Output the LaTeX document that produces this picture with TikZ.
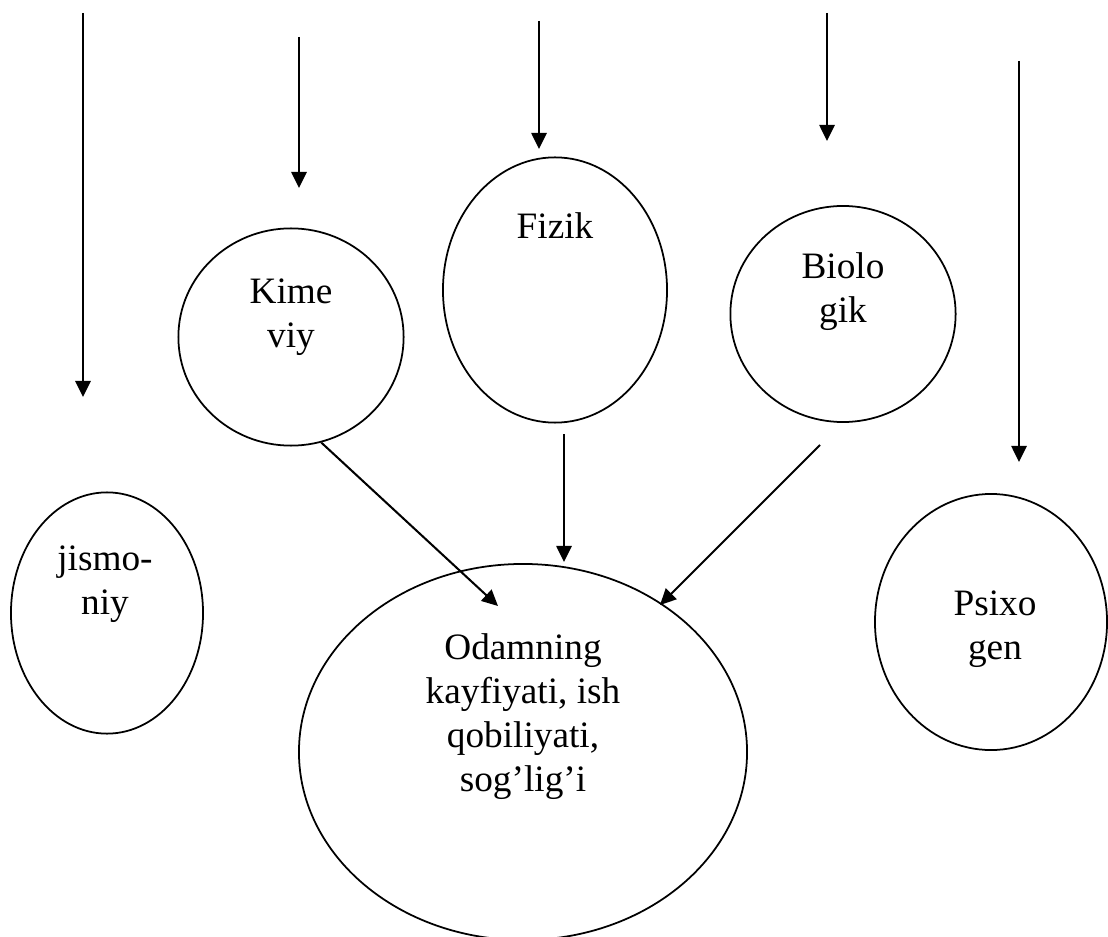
\documentclass[tikz,border=0pt]{standalone}
\usepackage{fontspec}
\setmainfont{Liberation Serif}
\usetikzlibrary{arrows.meta, shapes.geometric}
\tikzset{
  every picture/.style={line width=1.3pt},
  bubble/.style={draw, ellipse, inner sep=0pt, line width=1.25pt},
  lbl/.style={align=center, inner sep=0pt, font=\fontsize{26.5pt}{31.3pt}\selectfont},
  arr/.style={-{Triangle[length=0.4cm, width=0.38cm]}, line width=1.45pt},
}

\begin{document}
\begin{tikzpicture}[x=0.025cm, y=-0.025cm]
  \useasboundingbox (0,0) rectangle (1108,937);
  % the ellipses
  \node[bubble, minimum width=4.8cm, minimum height=6.03cm] (jis) at (107,613) {};
  \node[bubble, minimum width=5.63cm, minimum height=5.43cm] (kim) at (291,337) {};
  \node[bubble, minimum width=5.6cm, minimum height=6.63cm] (fiz) at (555,290) {};
  \node[bubble, minimum width=5.63cm, minimum height=5.4cm] (bio) at (843,314) {};
  \node[bubble, minimum width=5.8cm, minimum height=6.4cm] (psi) at (991,622) {};
  \node[bubble, minimum width=11.2cm, minimum height=9.4cm] (odm) at (523,752) {};
  % their texts
  \node[lbl] (jisT) at (105,584) {jismo-\\niy};
  \node[lbl] (kimT) at (291,317) {Kime\\viy};
  \node[lbl] (fizT) at (555,226) {Fizik};
  \node[lbl] (bioT) at (843,292) {Biolo\\gik};
  \node[lbl] (psiT) at (995,629) {Psixo\\gen};
  \node[lbl] (odmT) at (523,717) {Odamning\\kayfiyati, ish\\qobiliyati,\\sog’lig’i};
  % arrows from the top
  \coordinate (jisA) at (83,13);   \coordinate (jisB) at (83,397);
  \coordinate (kimA) at (299,37);  \coordinate (kimB) at (299,188);
  \coordinate (fizA) at (539,21);  \coordinate (fizB) at (539,149);
  \coordinate (bioA) at (827,13);  \coordinate (bioB) at (827,141);
  \coordinate (psiA) at (1019,61); \coordinate (psiB) at (1019,462);
  \draw[arr] (jisA) -- (jisB);
  \draw[arr] (kimA) -- (kimB);
  \draw[arr] (fizA) -- (fizB);
  \draw[arr] (bioA) -- (bioB);
  \draw[arr] (psiA) -- (psiB);
  % arrows into the middle
  \coordinate (fizOut) at (564,434);
  \coordinate (bioOut) at (820,445);
  \coordinate (odmK) at (498,606);
  \coordinate (odmF) at (564,562);
  \coordinate (odmB) at (660,605);
  \draw[arr] (kim.-74) -- (odmK);
  \draw[arr] (fizOut) -- (odmF);
  \draw[arr] (bioOut) -- (odmB);
\end{tikzpicture}
\end{document}
